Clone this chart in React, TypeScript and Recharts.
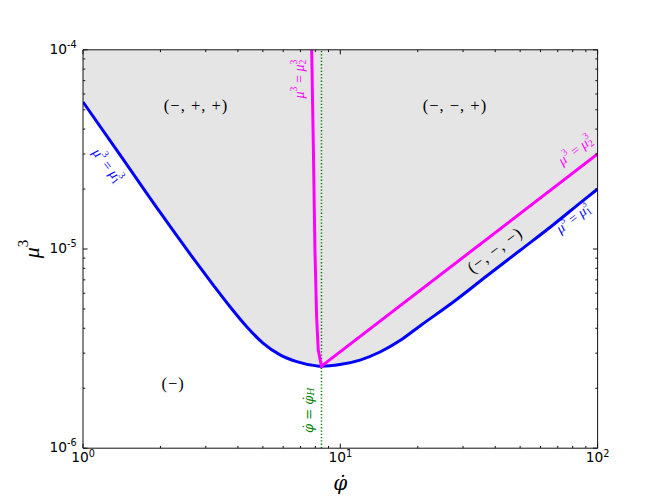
import {
  ComposedChart,
  Area,
  Line,
  XAxis,
  YAxis,
  ReferenceLine,
  ReferenceDot,
} from "recharts";

// lower boundary mu_1^3 (blue)
const phiBlue = [1.0, 1.393, 1.992, 2.766, 3.209, 3.727, 4.328, 5.02, 5.832, 6.77, 8.09, 8.45, 9.97, 11.93, 14.27, 17.06, 20.4, 27.49, 37.07, 49.9, 67.1, 87.8, 100];
const muBlue = [5.47e-5, 2.97e-5, 1.53e-5, 8.51e-6, 6.59e-6, 5.13e-6, 4.07e-6, 3.36e-6, 2.94e-6, 2.72e-6, 2.59e-6, 2.58e-6, 2.63e-6, 2.77e-6, 3.04e-6, 3.47e-6, 4.11e-6, 5.42e-6, 7.32e-6, 9.83e-6, 1.32e-5, 1.75e-5, 2.0e-5];

// mu_2^3 (magenta)
const phiMag = [7.74, 7.86, 7.97, 8.09, 8.21, 8.45, 100];
const muMag = [1e-4, 3.14e-5, 9.89e-6, 4.57e-6, 3.11e-6, 2.58e-6, 3.0e-5];

const phiH = 8.45;

const xTicks = [1, 2, 3, 4, 5, 6, 7, 8, 9, 10, 20, 30, 40, 50, 60, 70, 80, 90, 100];
const yTicks = [
  1e-6, 2e-6, 3e-6, 4e-6, 5e-6, 6e-6, 7e-6, 8e-6, 9e-6,
  1e-5, 2e-5, 3e-5, 4e-5, 5e-5, 6e-5, 7e-5, 8e-5, 9e-5, 1e-4,
];

const blueData = phiBlue.map((x, i) => ({ x, mu: muBlue[i] }));
const magData = phiMag.map((x, i) => ({ x, mu: muMag[i] }));

const W = 664;
const H = 498;
const FRAME = "#111";
const SERIF = "'Liberation Serif', 'DejaVu Serif', serif";
const DSERIF = "'DejaVu Serif', serif";
const SANS = "'DejaVu Sans', sans-serif";

const expOf = (v: number) => Math.round(Math.log10(v));
const isMajor = (v: number) => Math.abs(Math.log10(v) - expOf(v)) < 1e-6;

function Tick(props: any) {
  const { x, y, payload, side } = props;
  const v = payload.value;
  const major = isMajor(v);
  const len = major ? 4.6 : 2.3;
  let line;
  if (side === "bottom") line = <line x1={x} x2={x} y1={y} y2={y - len} stroke={FRAME} />;
  else if (side === "top") line = <line x1={x} x2={x} y1={y} y2={y + len} stroke={FRAME} />;
  else if (side === "left") line = <line x1={x} x2={x + len} y1={y} y2={y} stroke={FRAME} />;
  else line = <line x1={x} x2={x - len} y1={y} y2={y} stroke={FRAME} />;

  let label = null;
  if (major && side === "bottom") {
    label = (
      <text x={x} y={y + 14} textAnchor="middle" fontFamily={SANS} fontSize={13.8} fill="#000">
        10<tspan fontSize={9.7} dy={-5.5}>{expOf(v)}</tspan>
      </text>
    );
  }
  if (major && side === "left") {
    label = (
      <text x={x - 6.3} y={y + 3.7} textAnchor="end" fontFamily={SANS} fontSize={13.8} fill="#000">
        10<tspan fontSize={9.7} dy={-5.5}>{expOf(v)}</tspan>
      </text>
    );
  }
  return (
    <g>
      {line}
      {label}
    </g>
  );
}

function MuEq({ cx, cy, rot, sub, color }: any) {
  const s = 14;
  return (
    <text
      x={cx}
      y={cy}
      transform={`rotate(${rot} ${cx} ${cy})`}
      textAnchor="middle"
      dominantBaseline="central"
      fontFamily={SERIF}
      fontSize={s}
      fill={color}
      style={{ whiteSpace: "pre" }}
    >
      <tspan fontStyle="italic">μ</tspan>
      <tspan fontSize={s * 0.7} dy={-s * 0.4}>3</tspan>
      <tspan dy={s * 0.4}> = </tspan>
      <tspan fontStyle="italic">μ</tspan>
      <tspan fontSize={s * 0.7} dy={s * 0.25}>{sub}</tspan>
      <tspan fontSize={s * 0.7} dx={-s * 0.35} dy={-s * 0.65}>3</tspan>
    </text>
  );
}

function PhiEq({ cx, cy }: any) {
  const s = 13;
  return (
    <text
      x={cx}
      y={cy}
      transform={`rotate(-90 ${cx} ${cy})`}
      textAnchor="middle"
      dominantBaseline="central"
      fontFamily={DSERIF}
      fontSize={s}
      fill="#008000"
      style={{ whiteSpace: "pre" }}
    >
      <tspan fontStyle="italic">φ̇</tspan>
      <tspan> = </tspan>
      <tspan fontStyle="italic">φ̇</tspan>
      <tspan fontStyle="italic" fontSize={s * 0.7} dy={s * 0.25}>H</tspan>
    </text>
  );
}

function Region({ cx, cy, rot = 0, text }: any) {
  return (
    <text
      x={cx}
      y={cy}
      transform={`rotate(${rot} ${cx} ${cy})`}
      textAnchor="middle"
      dominantBaseline="central"
      fontFamily={SERIF}
      fontSize={16.5}
      letterSpacing={1}
      fill="#000"
      style={{ whiteSpace: "pre" }}
    >
      {text}
    </text>
  );
}

function YTitle(p: any) {
  const vb = p.viewBox;
  const cx = vb.x + vb.width - 52;
  const cy = vb.y + vb.height / 2;
  return (
    <text x={cx} y={cy} transform={`rotate(-90 ${cx} ${cy})`} textAnchor="middle" dominantBaseline="central" fontFamily={SERIF} fontSize={22} fill="#000">
      <tspan fontStyle="italic">μ</tspan>
      <tspan fontSize={15} dy={-8}>3</tspan>
    </text>
  );
}

function XTitle(p: any) {
  const vb = p.viewBox;
  const cx = vb.x + vb.width / 2;
  const by = vb.y + 42;
  return (
    <text x={cx} y={by} textAnchor="middle" fontFamily={DSERIF} fontStyle="italic" fontSize={20} fill="#000">
      φ̇
    </text>
  );
}

const dot = (x: number, y: number, render: (cx: number, cy: number) => any) => (
  <ReferenceDot
    x={x}
    y={y}
    r={0}
    fill="none"
    stroke="none"
    isFront
    shape={(p: any) => render(p.cx, p.cy)}
  />
);

export default function App() {
  return (
    <div style={{ position: "absolute", left: 0, top: 0, width: W, height: H, background: "#fff" }}>
      <ComposedChart
        width={W}
        height={H}
        data={blueData}
        margin={{ top: 48.8, right: 65.4, bottom: 48.8, left: 82 }}
      >
        <XAxis
          dataKey="x"
          type="number"
          scale="log"
          domain={[1, 100]}
          allowDataOverflow
          ticks={xTicks}
          interval={0}
          height={1}
          tickSize={0}
          tickMargin={0}
          tickLine={false}
          axisLine={{ stroke: FRAME }}
          tick={(p: any) => <Tick {...p} side="bottom" />}
          label={{ content: (p: any) => <XTitle {...p} /> }}
        />
        <XAxis
          xAxisId="top"
          orientation="top"
          dataKey="x"
          type="number"
          scale="log"
          domain={[1, 100]}
          allowDataOverflow
          ticks={xTicks}
          interval={0}
          height={1}
          tickSize={0}
          tickMargin={0}
          tickLine={false}
          axisLine={{ stroke: FRAME }}
          tick={(p: any) => <Tick {...p} side="top" />}
        />
        <YAxis
          type="number"
          scale="log"
          domain={[1e-6, 1e-4]}
          allowDataOverflow
          ticks={yTicks}
          interval={0}
          width={1}
          tickSize={0}
          tickMargin={0}
          tickLine={false}
          axisLine={{ stroke: FRAME }}
          tick={(p: any) => <Tick {...p} side="left" />}
          label={{ content: (p: any) => <YTitle {...p} /> }}
        />
        <YAxis
          yAxisId="right"
          orientation="right"
          type="number"
          scale="log"
          domain={[1e-6, 1e-4]}
          allowDataOverflow
          ticks={yTicks}
          interval={0}
          width={1}
          tickSize={0}
          tickMargin={0}
          tickLine={false}
          axisLine={{ stroke: FRAME }}
          tick={(p: any) => <Tick {...p} side="right" />}
        />
        <Area
          type="monotone"
          dataKey="mu"
          baseValue={1e-4}
          stroke="none"
          fill="#e5e5e5"
          fillOpacity={1}
          isAnimationActive={false}
        />
        <ReferenceLine x={phiH} stroke="#008000" strokeWidth={1.5} strokeDasharray="1.3 2" />
        <Line
          type="monotone"
          dataKey="mu"
          stroke="#0000ff"
          strokeWidth={3}
          dot={false}
          isAnimationActive={false}
        />
        <Line
          data={magData}
          type="linear"
          dataKey="mu"
          stroke="#ff00ff"
          strokeWidth={3}
          dot={false}
          isAnimationActive={false}
        />
        {dot(2.75, 5.23e-5, (cx, cy) => <Region cx={cx} cy={cy} text="(−, +, +)" />)}
        {dot(27.9, 5.23e-5, (cx, cy) => <Region cx={cx} cy={cy} text="(−, −, +)" />)}
        {dot(2.24, 2.12e-6, (cx, cy) => <Region cx={cx} cy={cy} text="(−)" />)}
        {dot(39.9, 9.89e-6, (cx, cy) => <Region cx={cx} cy={cy} rot={-37} text="(−, −, −)" />)}
        {dot(1.25, 2.64e-5, (cx, cy) => <MuEq cx={cx} cy={cy} rot={52} sub="1" color="#0000ff" />)}
        {dot(80.2, 1.43e-5, (cx, cy) => <MuEq cx={cx} cy={cy} rot={-37} sub="1" color="#0000ff" />)}
        {dot(81.7, 3.14e-5, (cx, cy) => <MuEq cx={cx} cy={cy} rot={-37} sub="2" color="#ff00ff" />)}
        {dot(6.91, 7.13e-5, (cx, cy) => <MuEq cx={cx} cy={cy} rot={-90} sub="2" color="#ff00ff" />)}
        {dot(7.46, 1.55e-6, (cx, cy) => <PhiEq cx={cx} cy={cy} />)}
      </ComposedChart>
    </div>
  );
}
